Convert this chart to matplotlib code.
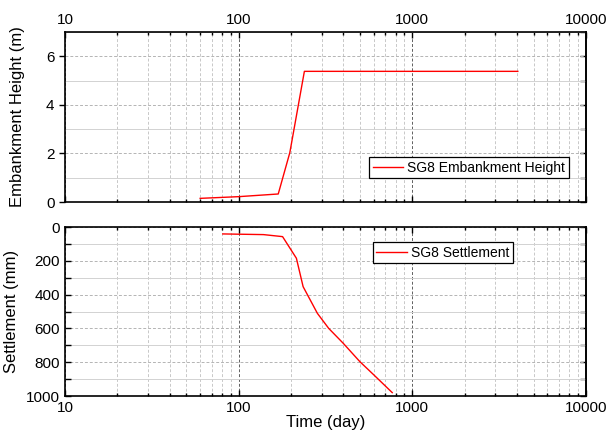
import matplotlib
matplotlib.use('Agg')
import matplotlib.pyplot as plt
from matplotlib.ticker import (LogLocator, MultipleLocator, FixedLocator,
                               NullFormatter, NullLocator, FuncFormatter)

plt.rcParams['font.family'] = ['Liberation Sans', 'DejaVu Sans']
plt.rcParams['font.size'] = 11

# 填土高度数据
height_days = [60, 100, 169, 197, 239, 4050]
height_m = [0.15, 0.22, 0.33, 2.03, 5.38, 5.38]

# 沉降数据
settle_days = [81, 139, 179, 215, 235, 284, 330, 400, 499, 600, 766]
settle_mm = [41, 45, 57, 185, 353, 511, 600, 688, 797, 875, 980]

fig = plt.figure(figsize=(6.08, 4.34), dpi=100)
ax1 = fig.add_axes([65 / 608, 1 - 202 / 434, 521 / 608, 170 / 434])
ax2 = fig.add_axes([65 / 608, 1 - 396 / 434, 521 / 608, 169 / 434])


def style_axis(ax, ymajor, yminor, left_out):
    ax.set_xscale('log')
    ax.set_xlim(10, 10000)
    ax.xaxis.set_major_locator(LogLocator(base=10, numticks=10))
    ax.xaxis.set_major_formatter(FuncFormatter(lambda v, p: f'{v:g}'))
    ax.xaxis.set_minor_locator(LogLocator(base=10, subs=range(2, 10), numticks=10))
    ax.xaxis.set_minor_formatter(NullFormatter())
    ax.yaxis.set_major_locator(MultipleLocator(ymajor))
    ax.yaxis.set_minor_locator(MultipleLocator(yminor))
    ax.grid(True, which='major', axis='x', color='#606060', linestyle=(0, (3, 2)), linewidth=0.7)
    ax.grid(True, which='minor', axis='x', color='#c8c8c8', linestyle=(0, (3, 2)), linewidth=0.7)
    ax.grid(True, which='major', axis='y', color='#b4b4b4', linestyle=(0, (3, 2)), linewidth=0.7)
    ax.grid(True, which='minor', axis='y', color='#d2d2d2', linestyle='-', linewidth=0.7)
    ax.set_axisbelow(True)
    ax.tick_params(axis='x', which='both', direction='in', top=True, bottom=True, width=1)
    ax.tick_params(axis='x', which='major', length=4)
    ax.tick_params(axis='x', which='minor', length=2.5)
    if left_out:
        # 左侧刻度朝外
        ax.tick_params(axis='y', which='major', direction='out', left=True, right=False, length=4, width=1)
        ax.tick_params(axis='y', which='minor', left=False, right=False)
    else:
        ax.tick_params(axis='y', which='both', direction='in', left=True, right=False, length=4, width=1)
    right = ax.secondary_yaxis('right')
    right.yaxis.set_major_locator(MultipleLocator(yminor))
    right.yaxis.set_minor_locator(NullLocator())
    right.tick_params(direction='in', length=4, width=1, labelright=False)
    right.spines['right'].set_linewidth(1.2)
    for s in ax.spines.values():
        s.set_linewidth(1.2)


def add_legend(ax, loc, anchor):
    leg = ax.legend(loc=loc, bbox_to_anchor=anchor, frameon=True, fancybox=False,
                    edgecolor='black', framealpha=1, borderpad=0.25, handlelength=2.2,
                    handletextpad=0.3, fontsize=10, borderaxespad=0)
    leg.get_frame().set_linewidth(0.9)


# 上图：填土高度
style_axis(ax1, 2, 1, True)
ax1.plot(height_days, height_m, color='red', linewidth=1, label='SG8 Embankment Height')
ax1.set_ylim(0, 7)
ax1.yaxis.set_major_locator(FixedLocator([0, 2, 4, 6]))
ax1.tick_params(labelbottom=False, labeltop=True)
ax1.set_ylabel('Embankment Height (m)', fontsize=12)
ax1.yaxis.set_label_coords(-0.077, 0.5)
add_legend(ax1, 'lower right', (0.967, 0.141))

# 下图：沉降
style_axis(ax2, 200, 100, False)
ax2.plot(settle_days, settle_mm, color='red', linewidth=1, label='SG8 Settlement')
ax2.set_ylim(1000, 0)
ax2.set_xlabel('Time (day)', fontsize=12, labelpad=0)
ax2.set_ylabel('Settlement (mm)', fontsize=12)
ax2.yaxis.set_label_coords(-0.088, 0.5)
add_legend(ax2, 'upper right', (0.86, 0.911))

fig.savefig('out.png', dpi=100)
